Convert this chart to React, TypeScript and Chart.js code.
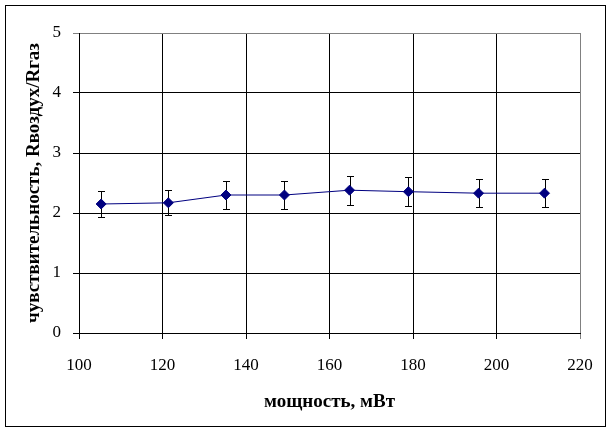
import React, { useEffect, useRef } from "react";
import { Chart, registerables } from "chart.js";

Chart.register(...registerables);

const powerMW = [105.3, 121.4, 135.2, 149.2, 164.8, 178.9, 195.7, 211.5];
const sensitivity = [2.15, 2.17, 2.30, 2.30, 2.38, 2.355, 2.33, 2.33];
const errors = [0.21, 0.21, 0.23, 0.23, 0.24, 0.24, 0.23, 0.23];
const xTicks = [100, 120, 140, 160, 180, 200, 220];
const yTicks = [0, 1, 2, 3, 4, 5];
const xTitle = "мощность, мВт";
const yTitle = "чувствительность, Rвоздух/Rгаз";

const FONT = "'Liberation Serif', 'Times New Roman', serif";

const frame = {
  id: "frame",
  beforeDraw(chart: any) {
    const c = chart.ctx;
    c.save();
    c.fillStyle = "#fff";
    c.fillRect(0, 0, chart.width, chart.height);
    c.strokeStyle = "#000";
    c.lineWidth = 1;
    c.strokeRect(5.5, 5.5, 600, 421);
    c.restore();
  },
};

const errorBars = {
  id: "errorBars",
  beforeDatasetsDraw(chart: any) {
    const c = chart.ctx;
    const xs = chart.scales.x;
    const ys = chart.scales.y;
    c.save();
    c.strokeStyle = "#000";
    c.lineWidth = 1;
    chart.data.datasets.forEach((ds: any) => {
      const errs = ds.errors || [];
      ds.data.forEach((p: any, i: number) => {
        const e = errs[i];
        if (e == null) return;
        const x = Math.round(xs.getPixelForValue(p.x)) + 0.5;
        const yt = Math.round(ys.getPixelForValue(p.y + e)) + 0.5;
        const yb = Math.round(ys.getPixelForValue(p.y - e)) + 0.5;
        c.beginPath();
        c.moveTo(x, yt);
        c.lineTo(x, yb);
        c.moveTo(x - 3.5, yt);
        c.lineTo(x + 3.5, yt);
        c.moveTo(x - 3.5, yb);
        c.lineTo(x + 3.5, yb);
        c.stroke();
      });
    });
    c.restore();
  },
};

export default function App() {
  const ref = useRef<HTMLCanvasElement>(null);
  useEffect(() => {
    document.body.style.margin = "0";
    const chart = new Chart(ref.current as HTMLCanvasElement, {
      type: "line",
      data: {
        datasets: [
          {
            data: powerMW.map((x, i) => ({ x, y: sensitivity[i] })),
            errors,
            borderColor: "#000080",
            backgroundColor: "#000080",
            borderWidth: 1,
            pointStyle: "rectRot",
            pointRadius: 5,
            pointBackgroundColor: "#000080",
            pointBorderColor: "#000080",
            tension: 0,
          } as any,
        ],
      },
      options: {
        animation: false,
        responsive: false,
        layout: { padding: { top: 33, right: 32, left: 0, bottom: 0 } },
        plugins: { legend: { display: false }, tooltip: { enabled: false } },
        scales: {
          x: {
            type: "linear",
            min: 100,
            max: 220,
            afterFit(s: any) {
              s.height = 99;
            },
            afterBuildTicks(s: any) {
              s.ticks = xTicks.map((v) => ({ value: v }));
            },
            ticks: {
              color: "#000",
              font: { family: FONT, size: 17 },
              padding: 16,
              maxRotation: 0,
            },
            grid: {
              color: (ctx: any) => (ctx.tick && ctx.tick.value === 220 ? "#808080" : "#000"),
              lineWidth: 1,
              tickLength: 6,
            },
            border: { color: "#000", width: 1 },
            title: {
              display: true,
              text: xTitle,
              color: "#000",
              font: { family: FONT, size: 19, weight: "bold" },
              padding: { top: 0, bottom: 19 },
            },
          },
          y: {
            type: "linear",
            min: 0,
            max: 5,
            afterFit(s: any) {
              s.width = 79;
            },
            afterBuildTicks(s: any) {
              s.ticks = yTicks.map((v) => ({ value: v }));
            },
            ticks: {
              color: "#000",
              font: { family: FONT, size: 17 },
              padding: 12,
            },
            grid: {
              color: (ctx: any) => (ctx.tick && ctx.tick.value === 5 ? "#808080" : "#000"),
              lineWidth: 1,
              tickLength: 6,
            },
            border: { color: "#000", width: 1 },
            title: {
              display: true,
              text: yTitle,
              color: "#000",
              font: { family: FONT, size: 19, weight: "bold" },
              padding: { top: 23, bottom: 0 },
            },
          },
        },
      },
      plugins: [frame, errorBars],
    });
    return () => chart.destroy();
  }, []);
  return <canvas ref={ref} width={612} height={432} />;
}
